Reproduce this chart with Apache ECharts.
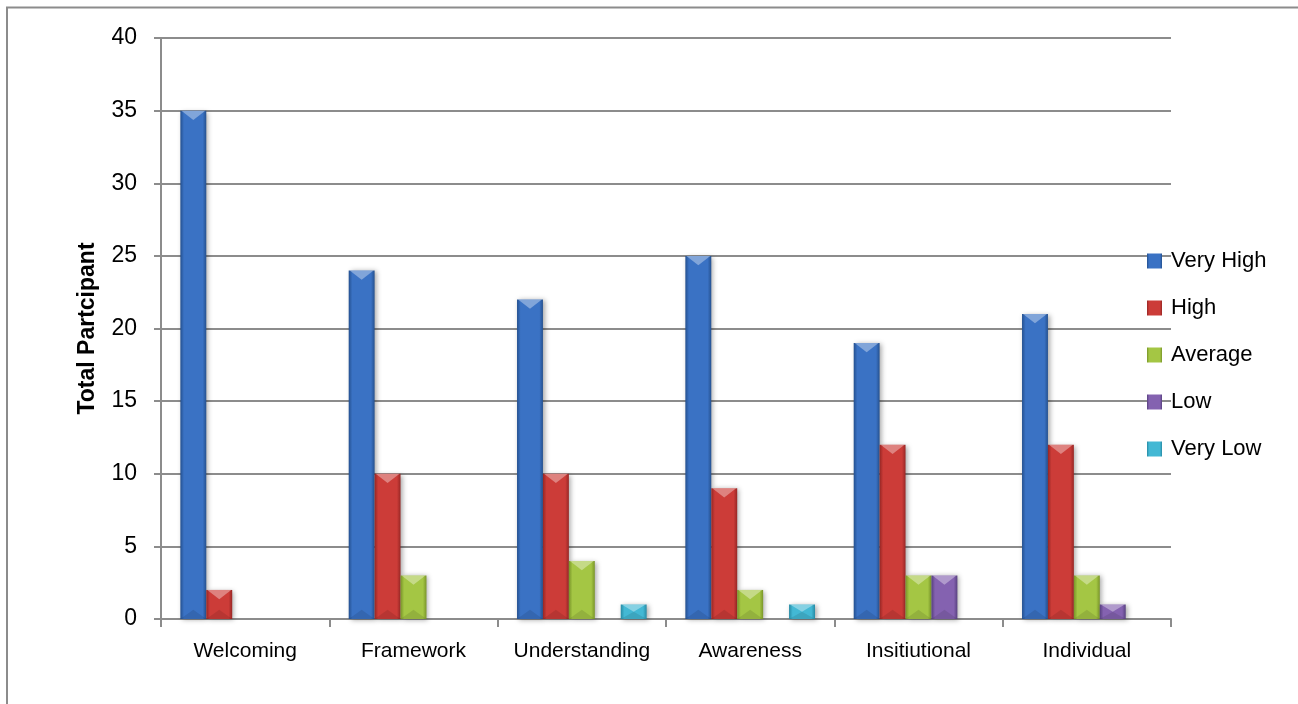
<!DOCTYPE html>
<html>
<head>
<meta charset="utf-8">
<script src="https://cdn.jsdelivr.net/npm/echarts@6/dist/echarts.min.js"></script>
<style>
html,body{margin:0;padding:0;background:#fff;}
#chart{width:1298px;height:704px;}
</style>
</head>
<body>
<div id="chart"></div>
<script>
const categories = ['Welcoming', 'Framework', 'Understanding', 'Awareness', 'Insitiutional', 'Individual'];
const seriesNames = ['Very High', 'High', 'Average', 'Low', 'Very Low'];
const veryHigh = [35, 24, 22, 25, 19, 21];
const high = [2, 10, 10, 9, 12, 12];
const average = [0, 3, 4, 2, 3, 3];
const low = [0, 0, 0, 0, 3, 1];
const veryLow = [0, 0, 1, 1, 0, 0];
const yTicks = [0, 5, 10, 15, 20, 25, 30, 35, 40];

const seriesData = [veryHigh, high, average, low, veryLow];
const palette = [
  ['#24508f', '#3a72c4', '#25518f'],
  ['#962624', '#cc3c38', '#982725'],
  ['#789428', '#a4c644', '#7a9629'],
  ['#57407f', '#8462b0', '#584180'],
  ['#278aa3', '#43b8d4', '#288ba5']
];
function grad(c) {
  return new echarts.graphic.LinearGradient(0, 0, 1, 0, [
    {offset: 0, color: c[0]},
    {offset: 0.14, color: c[1]},
    {offset: 0.5, color: c[1]},
    {offset: 0.86, color: c[1]},
    {offset: 1, color: c[2]}
  ]);
}
const CAT_GAP = 0.23;
const N = seriesNames.length;

function bevelRender(si) {
  return function (params, api) {
    const idx = api.value(0);
    const val = api.value(1);
    if (!val) return null;
    const band = api.size([1, 0])[0];
    const w = band * (1 - CAT_GAP) / N;
    const top = api.coord([idx, val]);
    const base = api.coord([idx, 0]);
    const x0 = top[0] - band * (1 - CAT_GAP) / 2 + si * w;
    const x1 = x0 + w;
    const yT = top[1];
    const yB = base[1];
    const h = yB - yT;
    const d = Math.min(w * 0.36, h / 2);
    return {
      type: 'group',
      children: [
        {
          type: 'polygon',
          shape: {points: [[x0 + 1, yT], [x1 - 1, yT], [x0 + w / 2, yT + d]]},
          style: {fill: 'rgba(255,255,255,0.36)'}
        },
        {
          type: 'polygon',
          shape: {points: [[x0, yB], [x1, yB], [x0 + w / 2, yB - d]]},
          style: {fill: 'rgba(0,0,0,0.10)'}
        }
      ]
    };
  };
}

const FONT = 'Liberation Sans';
const chart = echarts.init(document.getElementById('chart'), null, {renderer: 'canvas'});
const barSeries = seriesNames.map((n, i) => ({
  name: n,
  type: 'bar',
  data: seriesData[i],
  barGap: '0%',
  barCategoryGap: (CAT_GAP * 100) + '%',
  itemStyle: {
    color: grad(palette[i]),
    shadowColor: 'rgba(0,0,0,0.35)',
    shadowBlur: 5,
    shadowOffsetX: 2,
    shadowOffsetY: 1
  }
}));
const bevelSeries = seriesNames.map((n, i) => ({
  name: n,
  type: 'custom',
  silent: true,
  z: 5,
  data: seriesData[i].map((v, k) => [k, v]),
  renderItem: bevelRender(i)
}));

chart.setOption({
  animation: false,
  backgroundColor: '#ffffff',
  textStyle: {fontFamily: FONT},
  graphic: [{
    type: 'polyline',
    shape: {points: [[7, 704], [7, 7.5], [1298, 7.5]]},
    style: {stroke: '#8c8c8c', lineWidth: 2, fill: null}
  }],
  grid: {left: 161, right: 127, top: 38, bottom: 85, containLabel: false},
  legend: {
    orient: 'vertical',
    left: 1142,
    top: 245,
    itemWidth: 15,
    itemHeight: 15,
    itemGap: 25,
    icon: 'rect',
    textStyle: {fontFamily: FONT, fontSize: 22, color: '#000', padding: [0, 0, 0, 4]},
    data: seriesNames
  },
  xAxis: {
    type: 'category',
    data: categories,
    axisLine: {lineStyle: {color: '#8c8c8c', width: 2}},
    axisTick: {show: true, length: 8, lineStyle: {color: '#8c8c8c', width: 2}},
    axisLabel: {fontFamily: FONT, fontSize: 21, color: '#000', margin: 22, interval: 0}
  },
  yAxis: {
    type: 'value',
    min: yTicks[0],
    max: yTicks[yTicks.length - 1],
    interval: 5,
    name: 'Total Partcipant',
    nameLocation: 'middle',
    nameGap: 62,
    nameTextStyle: {fontFamily: FONT, fontSize: 23, fontWeight: 'bold', color: '#000'},
    axisLine: {show: true, lineStyle: {color: '#8c8c8c', width: 2}},
    axisTick: {show: true, length: 7, lineStyle: {color: '#8c8c8c', width: 2}},
    axisLabel: {fontFamily: FONT, fontSize: 23, color: '#000', margin: 24},
    splitLine: {lineStyle: {color: '#8c8c8c', width: 2}}
  },
  series: barSeries.concat(bevelSeries)
});
</script>
</body>
</html>
